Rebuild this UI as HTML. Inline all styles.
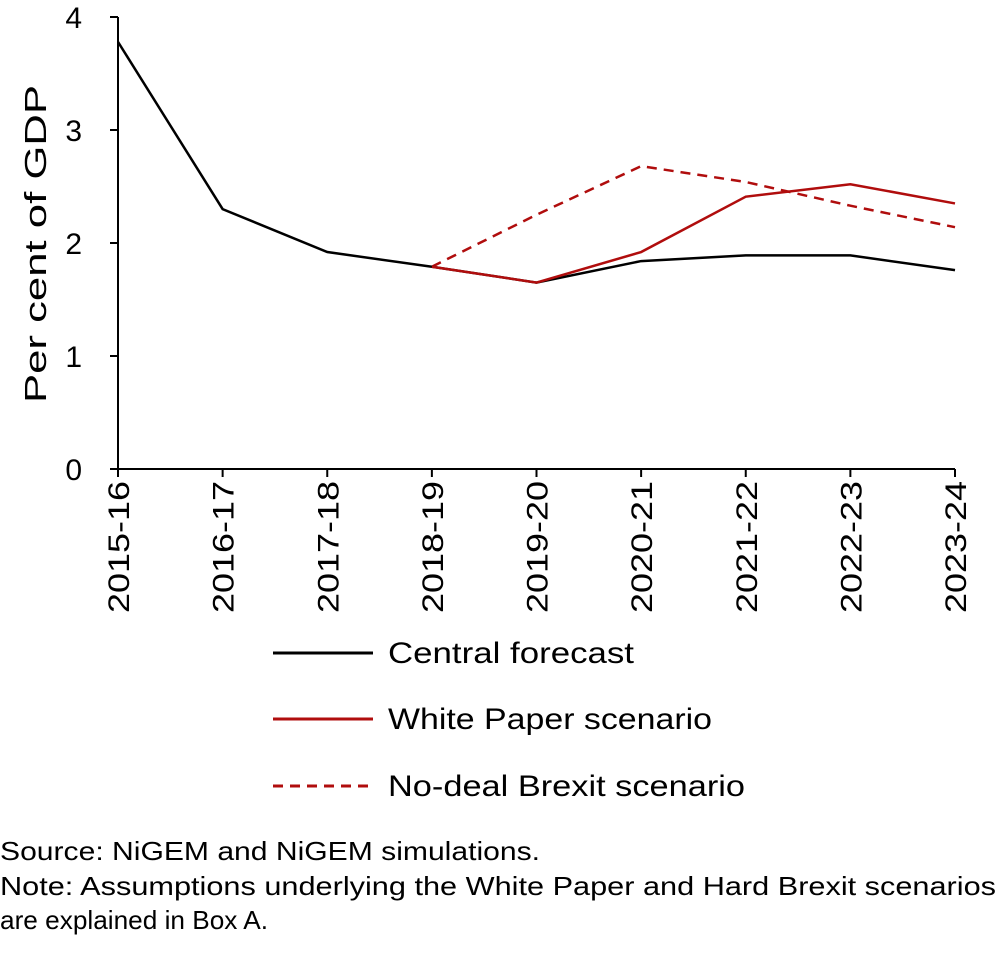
<!DOCTYPE html>
<html><head><meta charset="utf-8"><style>
body{margin:0;background:#fff;}
svg{display:block;font-family:"Liberation Sans",sans-serif;}
</style></head><body>
<svg width="999" height="953" viewBox="0 0 999 953">
<g id="axes"></g><g id="series"></g>
<g>
<line x1="273" y1="653" x2="373" y2="653" stroke="#000" stroke-width="3"/>
<text x="388" y="663" font-size="30" textLength="246" lengthAdjust="spacingAndGlyphs">Central forecast</text>
<line x1="273" y1="719" x2="373" y2="719" stroke="#b00d0d" stroke-width="3"/>
<text x="388" y="729" font-size="30" textLength="324" lengthAdjust="spacingAndGlyphs">White Paper scenario</text>
<line x1="273" y1="786" x2="373" y2="786" stroke="#b00d0d" stroke-width="3" stroke-dasharray="10,7"/>
<text x="388" y="796" font-size="30" textLength="357" lengthAdjust="spacingAndGlyphs">No-deal Brexit scenario</text>
</g>
<text x="0" y="860" font-size="26" textLength="540" lengthAdjust="spacingAndGlyphs">Source: NiGEM and NiGEM simulations.</text>
<text x="0" y="895" font-size="26" textLength="996" lengthAdjust="spacingAndGlyphs">Note: Assumptions underlying the White Paper and Hard Brexit scenarios</text>
<text x="0" y="929" font-size="26" textLength="268" lengthAdjust="spacingAndGlyphs">are explained in Box A.</text>
<text transform="translate(46,244) rotate(-90)" text-anchor="middle" font-size="31" textLength="318" lengthAdjust="spacingAndGlyphs">Per cent of GDP</text>
</svg>
<script>
const categories=["2015-16","2016-17","2017-18","2018-19","2019-20","2020-21","2021-22","2022-23","2023-24"];
const yTicks=[0,1,2,3,4];
const central=[3.78,2.30,1.92,1.79,1.65,1.84,1.89,1.89,1.76];
const whitePaper=[null,null,null,1.79,1.65,1.92,2.41,2.52,2.35];
const noDeal=[null,null,null,1.79,2.25,2.68,2.54,2.33,2.14];
const NS="http://www.w3.org/2000/svg";
const x0=118,x1=955,y0=469,yTop=17;
const xs=i=>x0+i*(x1-x0)/(categories.length-1);
const ys=v=>y0-v*(y0-yTop)/4;
const axes=document.getElementById('axes'),ser=document.getElementById('series');
function mk(t,a,p){const e=document.createElementNS(NS,t);for(const k in a)e.setAttribute(k,a[k]);p.appendChild(e);return e;}
let e=mk('line',{x1:x0,y1:yTop,x2:x0,y2:y0,stroke:'#000','stroke-width':2},axes);


e=mk('line',{x1:x0,y1:y0,x2:x1,y2:y0,stroke:'#000','stroke-width':2},axes);


yTicks.forEach(v=>{
 const t=mk('line',{x1:x0-8,y1:ys(v),x2:x0,y2:ys(v),stroke:'#000','stroke-width':2},axes);
 
 
 const l=mk('text',{x:82,y:ys(v)+11,'text-anchor':'end','font-size':30},axes);l.textContent=v;
 
 
});
categories.forEach((c,i)=>{
 const t=mk('line',{x1:xs(i),y1:y0,x2:xs(i),y2:y0+8,stroke:'#000','stroke-width':2},axes);
 
 
 const l=mk('text',{transform:`translate(${xs(i)+11},${y0+12}) rotate(-90)`,'text-anchor':'end','font-size':30,textLength:132,lengthAdjust:'spacingAndGlyphs'},axes);l.textContent=c;
 
 
});
function line(arr,col,dash,name){
 const pts=[];arr.forEach((v,i)=>{if(v!==null)pts.push(xs(i)+','+ys(v));});
 const p=mk('polyline',{points:pts.join(' '),fill:'none',stroke:col,'stroke-width':2.5},ser);
 if(dash)p.setAttribute('stroke-dasharray',dash);
 
 
}
line(noDeal,'#b00d0d','10,7','no-deal-line');
line(central,'#000',null,'central-forecast-line');
line(whitePaper,'#b00d0d',null,'white-paper-line');
</script>
</body></html>
